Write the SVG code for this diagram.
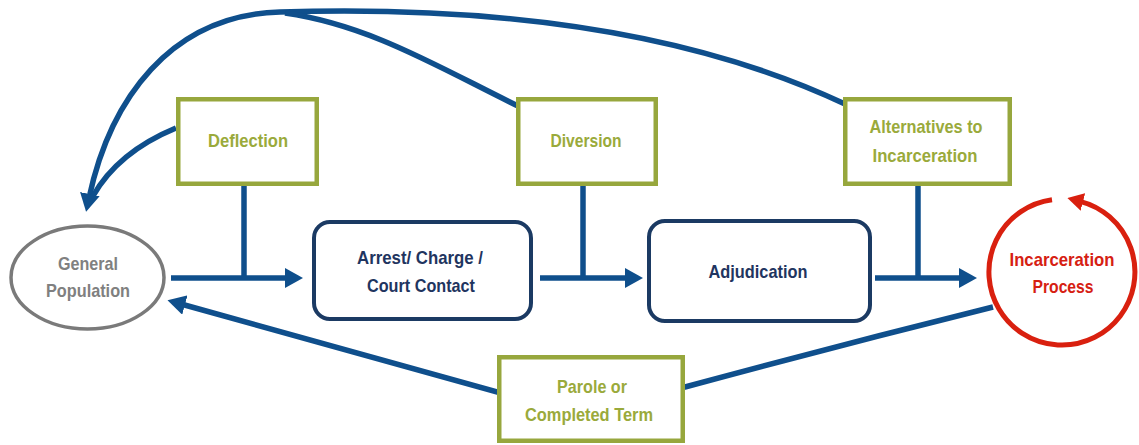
<svg xmlns="http://www.w3.org/2000/svg" width="1139" height="445" viewBox="0 0 1139 445">
<defs>
<style>
.ln{fill:none;stroke:#0F4F8C;stroke-width:5.5}
.gbox{fill:#fff;stroke:#97A73D;stroke-width:4.5}
.nbox{fill:#fff;stroke:#1B3A63;stroke-width:4}
.t{font-family:"Liberation Sans",Arial,sans-serif;font-weight:bold;font-size:19px;text-anchor:middle}
.tg{fill:#9AAA3B}
.tn{fill:#1F3560}
.tr{fill:#D62012}
.tgr{fill:#808080}
</style>
<marker id="ah" markerUnits="userSpaceOnUse" markerWidth="18" markerHeight="20" refX="4" refY="10" orient="auto">
<path d="M0,0 L18,10 L0,20 z" fill="#0F4F8C"/>
</marker>
<marker id="ahr" markerUnits="userSpaceOnUse" markerWidth="16" markerHeight="18" refX="3" refY="9" orient="auto">
<path d="M0,0 L16,9 L0,18 z" fill="#D9200F"/>
</marker>
</defs>
<g id="connectors">
<path class="ln" d="M845,104 C720,45 540,4 280,12 C170,15 110,100 89,198" marker-end="url(#ah)"/>
<path class="ln" d="M518,106 C440,68 370,25 285,13"/>
<path class="ln" d="M176,128 Q118,152 93,196"/>
<path class="ln" d="M244,186 V278"/>
<path class="ln" d="M171,278 H289" marker-end="url(#ah)"/>
<path class="ln" d="M583,186 V278"/>
<path class="ln" d="M540,278 H629" marker-end="url(#ah)"/>
<path class="ln" d="M918,186 V278"/>
<path class="ln" d="M875,278 H963" marker-end="url(#ah)"/>
<path class="ln" d="M993,307 Q840,345 685,387 L497,392 Q330,345 181,304" marker-end="url(#ah)"/>
</g>
<g id="general-population">
<ellipse cx="87.5" cy="277.5" rx="76.5" ry="51.5" fill="#fff" stroke="#7A7A7A" stroke-width="3.5"/>
<text class="t tgr" x="88" y="270" textLength="60" lengthAdjust="spacingAndGlyphs">General</text>
<text class="t tgr" x="88" y="297" textLength="84" lengthAdjust="spacingAndGlyphs">Population</text>
</g>
<g id="deflection">
<rect class="gbox" x="178.25" y="99.25" width="138.5" height="84.5"/>
<text class="t tg" x="248" y="147" textLength="80" lengthAdjust="spacingAndGlyphs">Deflection</text>
</g>
<g id="diversion">
<rect class="gbox" x="518.25" y="99.25" width="137.5" height="84.5"/>
<text class="t tg" x="586" y="147" textLength="71" lengthAdjust="spacingAndGlyphs">Diversion</text>
</g>
<g id="alternatives">
<rect class="gbox" x="845.25" y="99.25" width="164.5" height="84.5"/>
<text class="t tg" x="926" y="133" textLength="113" lengthAdjust="spacingAndGlyphs">Alternatives to</text>
<text class="t tg" x="925" y="162" textLength="105" lengthAdjust="spacingAndGlyphs">Incarceration</text>
</g>
<g id="arrest">
<rect class="nbox" x="314" y="222" width="217" height="97" rx="16"/>
<text class="t tn" x="420" y="264" textLength="126" lengthAdjust="spacingAndGlyphs">Arrest/ Charge /</text>
<text class="t tn" x="421" y="292" textLength="108" lengthAdjust="spacingAndGlyphs">Court Contact</text>
</g>
<g id="adjudication">
<rect class="nbox" x="649" y="221" width="221" height="100" rx="16"/>
<text class="t tn" x="758" y="278" textLength="99" lengthAdjust="spacingAndGlyphs">Adjudication</text>
</g>
<g id="incarceration">
<path d="M1052,199.7 A73,73 0 1,0 1080,201.3" fill="none" stroke="#D9200F" stroke-width="5" marker-end="url(#ahr)"/>
<text class="t tr" x="1062" y="266" textLength="105" lengthAdjust="spacingAndGlyphs">Incarceration</text>
<text class="t tr" x="1063" y="293" textLength="61" lengthAdjust="spacingAndGlyphs">Process</text>
</g>
<g id="parole">
<rect class="gbox" x="499.25" y="357.25" width="183.5" height="83.5"/>
<text class="t tg" x="592" y="393" textLength="70" lengthAdjust="spacingAndGlyphs">Parole or</text>
<text class="t tg" x="589" y="421" textLength="128" lengthAdjust="spacingAndGlyphs">Completed Term</text>
</g>
</svg>
